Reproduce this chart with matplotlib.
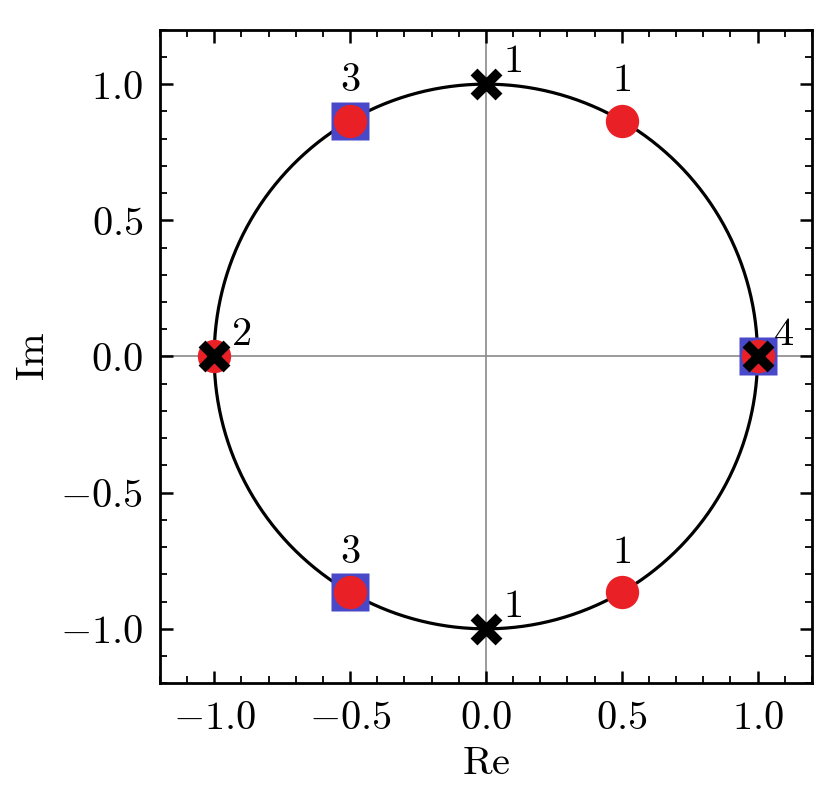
import numpy as np
import matplotlib.pyplot as plt
from matplotlib.ticker import MultipleLocator, FuncFormatter

plt.rcParams['mathtext.fontset'] = 'cm'
plt.rcParams['font.family'] = 'serif'

# sixth roots of unity (red), cube roots (blue squares), fourth roots (x)
circ_angles = [0, 60, 120, 180, 240, 300]
square_angles = [0, 120, 240]
cross_angles = [0, 90, 180, 270]

circ_labels = {60: '1', 120: '3', 240: '3', 300: '1'}
cross_labels = {0: '4', 90: '1', 180: '2', 270: '1'}


def pts(angles):
    a = np.deg2rad(angles)
    return np.cos(a), np.sin(a)


fig = plt.figure(figsize=(8.37, 8.02), dpi=100)
ax = fig.add_axes([0.191, 0.148, 0.779, 0.815])

ax.axhline(0, color='#8a8a8a', lw=1.2, zorder=1)
ax.axvline(0, color='#8a8a8a', lw=1.2, zorder=1)

t = np.linspace(0, 2 * np.pi, 400)
ax.plot(np.cos(t), np.sin(t), color='black', lw=2.3, zorder=2)

x, y = pts(square_angles)
ax.plot(x, y, 's', ms=28, color='#4848c8', mec='none', zorder=3)
x, y = pts(circ_angles)
ax.plot(x, y, 'o', ms=24, color='#ea2027', mec='none', zorder=4)
x, y = pts(cross_angles)
ax.plot(x, y, 'x', ms=18, mew=7, color='black', zorder=5)

fs = 29
for ang, lab in circ_labels.items():
    cx, cy = pts([ang])
    ax.annotate(r'$%s$' % lab, (cx[0], cy[0]), xytext=(0, 29),
                textcoords='offset points', ha='center', va='center', fontsize=fs)
for ang, lab in cross_labels.items():
    cx, cy = pts([ang])
    ax.annotate(r'$%s$' % lab, (cx[0], cy[0]), xytext=(19, 16),
                textcoords='offset points', ha='center', va='center', fontsize=fs)

ax.set_xlim(-1.2, 1.2)
ax.set_ylim(-1.2, 1.2)
for axis in (ax.xaxis, ax.yaxis):
    axis.set_major_locator(MultipleLocator(0.5))
    axis.set_minor_locator(MultipleLocator(0.1))
    axis.set_major_formatter(FuncFormatter(lambda v, p: r'$%.1f$' % v))
ax.tick_params(which='both', direction='in', top=True, right=True, labelsize=fs,
               width=1.8)
ax.tick_params(which='major', length=9, pad=12)
ax.tick_params(which='minor', length=5, width=1.3)
for s in ax.spines.values():
    s.set_linewidth(2)

ax.set_xlabel(r'$\mathrm{Re}$', fontsize=fs, labelpad=6)
ax.set_ylabel(r'$\mathrm{Im}$', fontsize=fs, labelpad=6)

fig.savefig('out.png', dpi=100)
